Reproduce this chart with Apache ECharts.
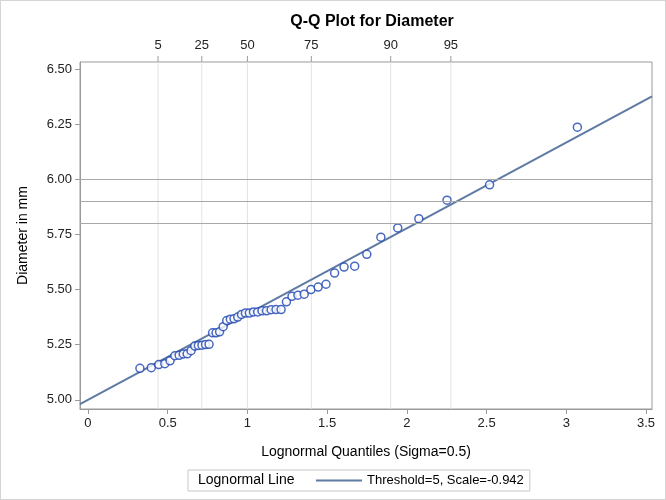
<!DOCTYPE html>
<html>
<head>
<meta charset="utf-8">
<script src="https://cdn.jsdelivr.net/npm/echarts@6/dist/echarts.min.js"></script>
<style>
html,body{margin:0;padding:0;background:#fff;}
#c{width:666px;height:500px;box-sizing:border-box;border:1px solid #d4d4d4;}
</style>
</head>
<body>
<div id="c"></div>
<script>
// Lognormal quantiles (x) and sorted diameters (y)
const quantiles = [0.3258,0.3970,0.4441,0.4819,0.5147,0.5444,0.5718,0.5978,0.6226,0.6465,
  0.6698,0.6926,0.7151,0.7373,0.7595,0.7815,0.8035,0.8256,0.8479,0.8703,
  0.8930,0.9160,0.9394,0.9632,0.9876,1.0126,1.0382,1.0645,1.0917,1.1198,
  1.1490,1.1794,1.2112,1.2446,1.2796,1.3167,1.3563,1.3984,1.4438,1.4930,
  1.5468,1.6062,1.6728,1.7489,1.8369,1.9429,2.0751,2.2518,2.5189,3.0694];
const diameters = [5.143,5.146,5.160,5.164,5.177,5.200,5.202,5.208,5.209,5.223,
  5.244,5.247,5.248,5.251,5.252,5.304,5.304,5.309,5.332,5.360,
  5.366,5.368,5.376,5.388,5.394,5.394,5.399,5.399,5.404,5.404,
  5.409,5.410,5.410,5.445,5.470,5.475,5.480,5.501,5.512,5.525,
  5.576,5.603,5.607,5.661,5.739,5.781,5.823,5.907,5.977,6.239];
// Fitted lognormal line endpoints (Threshold=5, Scale=-0.942, Sigma=0.5)
const lineX = [-0.05, 3.5375];
const lineY = [4.9805, 6.3791];
// Percentile axis labels and their quantile positions
const pctLabels = [5, 25, 50, 75, 90, 95];
const pctPositions = [0.4394, 0.7139, 1.0, 1.4008, 1.8987, 2.2760];
// Reference lines
const refLines = [5.80, 5.90, 6.00];
// Tick labels
const xTicks = [0, 0.5, 1, 1.5, 2, 2.5, 3, 3.5];
const yTicks = [5.00, 5.25, 5.50, 5.75, 6.00, 6.25, 6.50];

const FONT = '"Liberation Sans", Arial, sans-serif';
const AX = '#9a9a9a';
const LINE_COLOR = '#5f7aa3';

const chart = echarts.init(document.getElementById('c'));
const points = quantiles.map((q, i) => [q, diameters[i]]);
const lineData = lineX.map((x, i) => [x, lineY[i]]);
const pctData = pctLabels.map((p, i) => [p, pctPositions[i]]);

chart.setOption({
  animation: false,
  backgroundColor: '#fff',
  textStyle: { fontFamily: FONT },
  title: [
    { text: 'Q-Q Plot for Diameter', left: 366, top: 8, textAlign: 'center',
      textStyle: { fontSize: 16, fontWeight: 'bold', color: '#000', fontFamily: FONT } },
    { text: 'Lognormal Line', left: 192, top: 467,
      textStyle: { fontSize: 14, fontWeight: 'normal', color: '#000', fontFamily: FONT } }
  ],
  legend: {
    left: 187, top: 469,
    padding: [3, 6, 3, 128],
    borderColor: '#c8c8c8', borderWidth: 1,
    itemWidth: 46, itemHeight: 2, itemGap: 4,
    textStyle: { fontSize: 13, color: '#000', fontFamily: FONT, lineHeight: 15 },
    data: [{ name: 'Threshold=5, Scale=-0.942', icon: 'rect', itemStyle: { color: LINE_COLOR } }]
  },
  grid: { left: 79, right: 13, top: 61, bottom: 90, show: true, borderColor: AX, borderWidth: 1, backgroundColor: 'transparent' },
  xAxis: {
    type: 'value', min: -0.05, max: 3.5375,
    name: 'Lognormal Quantiles (Sigma=0.5)', nameLocation: 'middle', nameGap: 36,
    nameTextStyle: { fontSize: 14, color: '#000', fontFamily: FONT },
    axisLine: { show: true, onZero: false, lineStyle: { color: AX } },
    axisTick: { show: true, length: 5, lineStyle: { color: AX }, customValues: xTicks },
    axisLabel: { customValues: xTicks, fontSize: 13, color: '#222', margin: 8,
      formatter: v => String(v) },
    splitLine: { show: false }
  },
  yAxis: {
    type: 'value', min: 4.958, max: 6.535,
    name: 'Diameter in mm', nameLocation: 'middle', nameGap: 50,
    nameTextStyle: { fontSize: 14, color: '#000', fontFamily: FONT },
    axisLine: { show: true, onZero: false, lineStyle: { color: AX } },
    axisTick: { show: true, length: 5, lineStyle: { color: AX }, customValues: yTicks },
    axisLabel: { customValues: yTicks, fontSize: 13, color: '#222', margin: 8,
      formatter: v => v.toFixed(2) },
    splitLine: { show: false }
  },
  series: [
    {
      type: 'custom', name: 'pct', silent: true, clip: false, z: 1,
      data: pctData,
      renderItem: function (params, api) {
        const x = api.coord([api.value(1), 5])[0];
        const top = params.coordSys.y;
        const bottom = top + params.coordSys.height;
        return { type: 'group', children: [
          { type: 'line', shape: { x1: x, y1: top, x2: x, y2: bottom }, style: { stroke: '#e3e3e3', lineWidth: 1 } },
          { type: 'line', shape: { x1: x, y1: top - 6, x2: x, y2: top }, style: { stroke: AX, lineWidth: 1 } },
          { type: 'text', style: { text: String(api.value(0)), x: x, y: top - 10, align: 'center', verticalAlign: 'bottom',
              fontSize: 13, fontFamily: FONT, fill: '#222' } }
        ] };
      }
    },
    {
      type: 'line', name: 'ref', silent: true, data: [], z: 2,
      markLine: {
        silent: true, symbol: 'none', label: { show: false },
        lineStyle: { color: '#a8a8a8', width: 1, type: 'solid' },
        data: refLines.map(v => ({ yAxis: v }))
      }
    },
    {
      type: 'line', name: 'Threshold=5, Scale=-0.942', data: lineData, z: 3,
      showSymbol: false, symbol: 'none',
      lineStyle: { color: LINE_COLOR, width: 2 }, itemStyle: { color: LINE_COLOR }
    },
    {
      type: 'scatter', name: 'Diameter', data: points, z: 4,
      symbol: 'circle', symbolSize: 8,
      itemStyle: { color: '#fff', borderColor: '#1c44b0', borderWidth: 1.5 }
    }
  ]
});
</script>
</body>
</html>
